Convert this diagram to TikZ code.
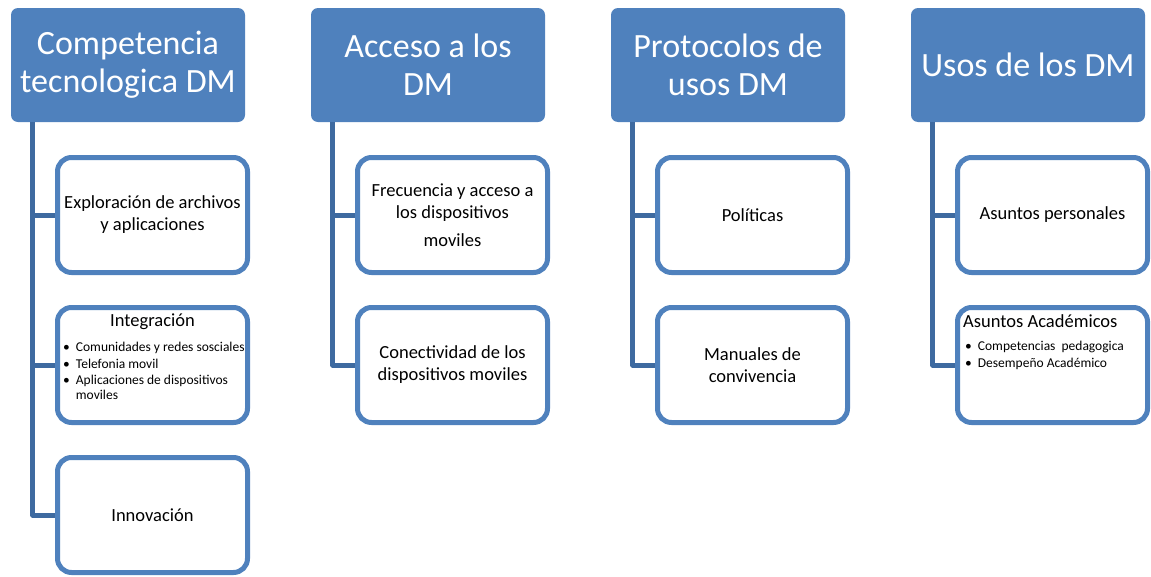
\documentclass[tikz,border=0pt]{standalone}
\usepackage{fontspec}
\setmainfont{Carlito}
\usetikzlibrary{positioning}

\definecolor{hdrblue}{HTML}{4F81BD}
\definecolor{trunkblue}{HTML}{3E6AA0}

\begin{document}
\begin{tikzpicture}[x = 1pt, y = -1pt,
	header/.style = {fill = hdrblue, text = white, rounded corners = 7pt, minimum width = 234pt, minimum height = 114pt, inner sep = 0pt, align = center, font = \fontsize{34}{38}\selectfont},
	item/.style = {draw = hdrblue, line width = 5pt, fill = white, rounded corners = 14pt, minimum width = 190pt, minimum height = 115pt, inner sep = 0pt, align = center, font = \fontsize{18.5}{22}\selectfont},
	trunk/.style = {draw = trunkblue, line width = 5pt, line join = round},
	bullets/.style = {inner sep = 0pt, anchor = north west, font = \fontsize{13.5}{16.5}\selectfont}]

	% Definitions

	\def\colw{300}		% Distance between columns
	\def\hx{128}		% x of first header centre
	\def\bx{152.5}		% x of first item centre

	\useasboundingbox (0, 0) rectangle (1151, 576);

	% Draw headers + trunks

	\foreach \n/\txt in {1/{Competencia\\tecnologica DM}, 2/{Acceso a los\\DM}, 3/{Protocolos de\\usos DM}, 4/{Usos de los DM}}
	{
		\node [header] (h\n) at ({\hx + (\n - 1) * \colw}, 65) {\txt};
		\coordinate (trk\n) at ([xshift = 22pt] h\n.south west);
	}

	% Draw items

	\node [item] (c11) at (\bx, 215) {Exploración de archivos\\y aplicaciones};
	\node [item] (c12) at (\bx, 365) {};
	\node [item] (c13) at (\bx, 515) {Innovación};

	\node [item] (c21) at ({\bx + \colw}, 215) {Frecuencia y acceso a\\los dispositivos\\[6pt]moviles};
	\node [item] (c22) at ({\bx + \colw}, 365) {Conectividad de los\\dispositivos moviles};

	\node [item] (c31) at ({\bx + 2 * \colw}, 215) {Políticas};
	\node [item] (c32) at ({\bx + 2 * \colw}, 365) {Manuales de\\convivencia};

	\node [item] (c41) at ({\bx + 3 * \colw}, 215) {Asuntos personales};
	\node [item] (c42) at ({\bx + 3 * \colw}, 365) {};

	% Item texts with bullets

	\node [font = \fontsize{18.5}{22}\selectfont] (c12t) at ([yshift = -17pt] c12.north) {Integración};
	\node [bullets] (c12l) at ([xshift = 8pt, yshift = -35pt] c12.north west)
		{\begin{tabular}{@{}l@{\hspace{6pt}}l@{}}
			\textbullet & Comunidades y redes sosciales\\
			\textbullet & Telefonia movil\\
			\textbullet & Aplicaciones de dispositivos\\[-1.5pt]
			 & moviles
		\end{tabular}};

	\node [anchor = west, inner sep = 0pt, font = \fontsize{18.5}{22}\selectfont] (c42t) at ([xshift = 8pt, yshift = -16pt] c42.north west) {Asuntos Académicos};
	\node [bullets] (c42l) at ([xshift = 10pt, yshift = -34pt] c42.north west)
		{\begin{tabular}{@{}l@{\hspace{6pt}}l@{}}
			\textbullet & Competencias\ \ pedagogica\\
			\textbullet & Desempeño Académico
		\end{tabular}};

	% Draw branches

	\foreach \c/\b in {1/1, 1/2, 1/3, 2/1, 2/2, 3/1, 3/2, 4/1, 4/2}
		\draw [trunk] (trk\c) |- (c\c\b.west);

\end{tikzpicture}
\end{document}
